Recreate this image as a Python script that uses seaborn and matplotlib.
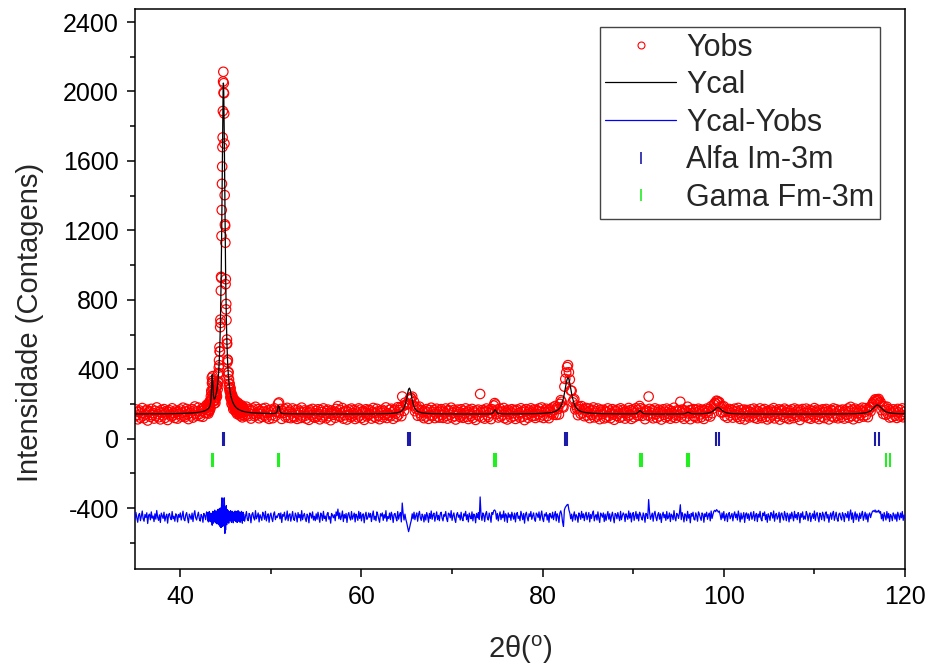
import numpy as np
import matplotlib
matplotlib.use("Agg")
import matplotlib.pyplot as plt
from matplotlib.lines import Line2D
from matplotlib.ticker import MultipleLocator
import seaborn as sns

# ---------------------------------------------------------------------------
# Refined profile: background level and reflections (position, height, FWHM, shape)
# ---------------------------------------------------------------------------
background = 142.0
peak_pos = [43.52, 44.76, 50.85, 65.28, 74.75, 82.80, 90.75, 96.05, 99.35, 116.95]
peak_height = [180, 1910, 55, 150, 25, 210, 20, 10, 38, 52]
peak_fwhm = [0.18, 0.42, 0.20, 0.70, 0.30, 0.90, 0.40, 0.40, 1.00, 1.20]
peak_eta = [0.6, 0.9, 0.6, 0.8, 0.6, 0.8, 0.6, 0.6, 0.8, 0.8]

# Bragg reflection markers for each phase (K-alpha1 / K-alpha2 pairs)
alfa_pos = [44.72, 44.84, 65.15, 65.33, 82.50, 82.74, 99.15, 99.45, 116.70, 117.10]
gama_pos = [43.55, 43.66, 50.80, 50.93, 74.68, 74.86, 90.70, 90.92, 95.95, 96.20, 117.95, 118.35]
alfa_level = 0
gama_level = -125
diff_offset = -450

# Observed minus calculated counts on the measurement grid
# 35.0-42.9 deg, step 0.1
resid_low = [
    -14, 26, -5, -31, 11, 20, -22, 4, 34, -11, -25, 14, -3, 24, -38, 9, 16, -17, 29, -7,
    5, -27, 18, -13, 37, -2, -20, 12, -32, 22, 7, -9, 27, -24, 2, 16, -36, 11, 20, -5,
    -16, 31, -11, 4, -25, 18, 9, -29, 14, -2, 23, -18, 5, 33, -13, -22, 11, 25, -7, -34,
    16, 2, -14, 22, -27, 13, 36, -5, -18, 7, 27, -11, -24, 14, 4, -31, 20, 9, -16, 29,
]
# 43.000-46.975 deg, step 0.025 (main reflection region)
resid_peak = [
    11, -20, 25, -7, -29, 16, 5, -14, 31, -23, 4, 20, -11, -27, 14, 22, -16, 9, -32, 18,
    -40, -48, -22, 32, -16, 25, -36, 13, 29, -9, -25, 20, 39, -14, 7, -34, 23, 11, -20, 34,
    -13, 27, -40, 16, 5, -29, 43, -18, 22, -45, 14, 32, -23, 49, -11, -54, 38, 25, -59, 52,
    45, -60, 70, 95, 110, 65, 30, -55, -25, 55, 65, -50, 60, 100, 110, 80, -70, -95, 30, 55,
    -75, 50, -40, 65, 35, -45, 25, 42, -30, 16, 38, -25, 11, 32, -36, 20, 5, -16, 29, -9,
    18, -23, 36, 7, -14, 27, -31, 13, 22, -7, 32, -20, 4, 25, -34, 16, 9, -13, 29, -4,
    -22, 14, 34, -11, 20, -27, 5, 31, -16, 11, 23, -32, 18, 2, -9, 36, -25, 13, 22, -18,
    7, 29, -14, 20, -31, 4, 25, -5, 16, -22, 32, -11, 9, 23, -36, 14, -2, 27, -20, 11,
]
# 47.0-120.0 deg, step 0.1
resid_high = [
    16, -25, 5, 31, -13, -22, 20, 9, -34, 14, 25, -5, -18, 36, -11, 4, 23, -29, 13, -2,
    -20, 27, 11, -14, 32, -23, 2, 18, -31, 7, 22, -9, -27, 16, 29, -16, 5, -4, 14, 20,
    -11, 23, -32, 13, 4, 27, -18, -7, 34, -22, 11, 18, -25, 2, 31, -13, -20, 22, 7, -29,
    25, -4, 14, -23, 36, -16, 9, 20, -11, -27, 16, 5, -34, 23, 13, -7, 29, -18, 4, -22,
    18, -14, 27, -2, -31, 22, 11, -20, 32, -9, 5, -25, 16, 25, -13, 2, -36, 20, 9, -5,
    13, -22, 29, 7, 45, -11, 23, -16, 4, 34, -27, 14, -7, 20, -32, 11, 25, -4, -18, 31,
    -13, 5, 22, -29, 16, 2, -20, 32, -9, 25, -23, 11, 18, -34, 7, 27, -14, -5, 23, -2,
    20, -27, 9, 34, -16, 4, -22, 29, 14, -11, -31, 18, 5, 23, -20, 13, -7, 36, -25, 2,
    -9, 22, -16, 27, 7, -32, 14, 20, -4, -23, 31, -13, 11, 25, -29, 80, 18, -18, 16, -14,
    -35, -60, -85, -65, -40, -20, 18, -11, 27, -16, 7, 23, -25, 13, 32, -5, -20, 16, 4, -29,
    14, -18, 25, 5, -31, 20, -9, 34, -14, 11, 22, -25, 2, 29, -16, 9, -22, 18, 27, -7,
    -23, 13, 4, 31, -11, -27, 22, 16, -5, 36, -20, 7, 23, -13, -32, 14, 25, -2, 11, -18,
    27, -9, -22, 18, 5, 32, -16, 13, -29, 22, 2, -11, 29, -23, 16, 7, -34, 20, -4, 25,
    -14, 115, 9, -20, 23, 11, -27, 16, 31, -7, -18, 22, 4, -31, 25, 14, 36, 40, 32, -13,
    20, -23, 7, 29, -16, 13, -5, 34, -25, 18, 9, -32, 23, -2, 14, -20, 27, 4, -13, 22,
    -29, 16, 25, -9, 5, -22, 32, 11, -16, 20, -36, 13, 27, -5, -23, 18, 2, 31, -14, 7,
    23, -13, -25, 22, 14, -4, 29, -20, 9, 34, -11, -27, 16, 5, 25, -18, 13, -31, 20, 4,
    -7, 27, -16, 11, 31, -23, 18, 4, -32, 22, 35, 14, -30, -55, 40, 55, 62, 70, 72, 40,
    22, -11, 16, -25, 7, 29, -18, 13, 2, -31, 23, 9, -14, 32, -5, 18, -22, 11, 27, -16,
    5, 25, -29, 14, -9, 20, 34, -23, 4, 13, -18, 29, -7, -32, 22, 11, -2, 23, -27, 16,
    -20, 9, 31, -13, 18, -25, 5, 27, -4, -34, 20, 14, -11, 25, 2, -22, 32, -16, 7, 23,
    11, -27, 18, 4, -14, 34, -7, 22, -29, 13, 25, -20, 5, 31, -11, 16, -23, 27, 14, -5,
    -18, 23, 7, -31, 20, 13, -9, 100, 29, -14, 4, 22, -25, 16, 32, -2, -22, 11, 25, -13,
    18, -32, 9, 27, -5, 14, -20, 31, -11, 2, 23, -27, 16, 7, -16, 36, -4, -23, 20, 13,
    -9, 22, 70, -16, 25, 5, -29, 18, 11, -22, 32, -7, 14, -34, 20, 4, 27, -13, -18, 23,
    7, -25, 29, 16, -4, -20, 23, 13, -31, 18, 2, 27, -14, 9, 22, -23, 34, -9, 14, 32,
    38, 30, 42, 36, 27, 34, 11, -16, 23, -7, 31, -22, 5, 18, -27, 14, 25, -11, 4, 20,
    -23, 13, 29, -5, 16, -18, 34, 7, -29, 22, -13, 2, 25, -32, 14, 23, -9, 18, -20, 11,
    27, -14, 4, 31, -22, 9, 20, -27, 16, -2, 32, -11, -23, 22, 7, 29, -16, 13, -31, 18,
    5, -20, 25, 14, -7, 34, -25, 11, 20, -13, 2, 27, -32, 16, 23, -4, -18, 31, 9, -22,
    22, 7, -29, 18, -11, 27, 4, -23, 32, -5, 14, -16, 25, 11, -34, 20, -2, 29, -14, 5,
    -13, 31, 16, -22, 9, 23, -27, 2, 18, -9, 34, -20, 13, 25, -5, -29, 22, 7, -16, 27,
    11, -23, 20, 29, -7, 14, -31, 5, 23, -14, 18, 32, -20, 4, 27, -11, -25, 16, 22, -4,
    -18, 25, 9, -27, 20, 13, -5, 31, -22, 16, 40, -13, 23, -32, 7, 29, -16, 18, 2, -25,
    22, -9, 14, 32, -20, 5, 27, -14, 18, -29, 11, 23, -4, 16, 31, 36, 30, 40, 26, 34,
    28, 38, 22, 30, -11, 16, -23, 25, 5, -18, 31, -7, 20, -27, 14, 4, -22, 23, 11, -13,
    16, -25, 27, 7, -16, 22, -5, 31, -20, 11, -9,
]

# Measurement grid (2-theta positions of the recorded steps)
two_theta = np.concatenate([
    35.0 + 0.1 * np.arange(len(resid_low)),
    43.0 + 0.025 * np.arange(len(resid_peak)),
    47.0 + 0.1 * np.arange(len(resid_high)),
])
resid = np.array(resid_low + resid_peak + resid_high, dtype=float)


def pseudo_voigt(x, pos, height, fwhm, eta):
    u = (x - pos) / (fwhm / 2.0)
    return height * (eta / (1.0 + u ** 2) + (1.0 - eta) * np.exp(-np.log(2.0) * u ** 2))


ycal = np.full_like(two_theta, background)
for p, h, w, e in zip(peak_pos, peak_height, peak_fwhm, peak_eta):
    ycal += pseudo_voigt(two_theta, p, h, w, e)
yobs = ycal + resid
ydiff = resid + diff_offset

# ---------------------------------------------------------------------------
# Figure
# ---------------------------------------------------------------------------
sns.set_style("ticks")
plt.rcParams["font.family"] = ["Liberation Sans", "DejaVu Sans"]
plt.rcParams["mathtext.fontset"] = "custom"
plt.rcParams["mathtext.rm"] = "Liberation Sans"
plt.rcParams["mathtext.it"] = "Liberation Sans:italic"
plt.rcParams["axes.unicode_minus"] = False

fig = plt.figure(figsize=(9.29, 6.68), dpi=100)
ax = fig.add_axes([135 / 929, 99 / 668, 770 / 929, 560 / 668])

obs_color = "#FF0000"
cal_color = "#000000"
diff_color = "#0000FF"
alfa_color = "#1C1CA8"
gama_color = "#22EE22"

sns.scatterplot(x=two_theta, y=yobs, ax=ax, marker="o", s=46,
                facecolors="none", edgecolor=obs_color, linewidth=0.85, zorder=2)
sns.lineplot(x=two_theta, y=ycal, ax=ax, color=cal_color, linewidth=0.9,
             estimator=None, sort=False, zorder=3)
sns.lineplot(x=two_theta, y=ydiff, ax=ax, color=diff_color, linewidth=0.9,
             estimator=None, sort=False, zorder=3)
sns.scatterplot(x=alfa_pos, y=[alfa_level] * len(alfa_pos), ax=ax, marker="|",
                s=90, color=alfa_color, linewidth=1.5, zorder=3)
sns.scatterplot(x=gama_pos, y=[gama_level] * len(gama_pos), ax=ax, marker="|",
                s=90, color=gama_color, linewidth=1.5, zorder=3)

ax.set_xlim(35, 120)
ax.set_ylim(-750, 2475)
ax.xaxis.set_major_locator(MultipleLocator(20))
ax.xaxis.set_minor_locator(MultipleLocator(10))
ax.yaxis.set_major_locator(MultipleLocator(400))
ax.yaxis.set_minor_locator(MultipleLocator(200))
ax.tick_params(which="both", direction="out", width=1.1, colors="black",
               labelsize=18, top=False, right=False)
ax.tick_params(which="major", length=5.5)
ax.tick_params(which="minor", length=3.5)
ax.tick_params(axis="y", pad=6)
ax.tick_params(axis="x", pad=6)
for sp in ax.spines.values():
    sp.set_linewidth(1.1)
    sp.set_color("black")

ax.set_xlabel(r"2θ($^{\mathrm{o}}$)", fontsize=21, labelpad=18)
ax.set_ylabel("Intensidade (Contagens)", fontsize=21)
ax.yaxis.set_label_coords(-0.118, 0.44)

handles = [
    Line2D([], [], linestyle="none", marker="o", markersize=5, markerfacecolor="none",
           markeredgecolor=obs_color, markeredgewidth=0.8),
    Line2D([], [], color=cal_color, linewidth=0.9),
    Line2D([], [], color=diff_color, linewidth=0.9),
    Line2D([], [], linestyle="none", marker="|", markersize=8, color=alfa_color,
           markeredgewidth=1.2),
    Line2D([], [], linestyle="none", marker="|", markersize=8, color=gama_color,
           markeredgewidth=1.2),
]
labels = ["Yobs", "Ycal", "Ycal-Yobs", "Alfa Im-3m", "Gama Fm-3m"]
leg = ax.legend(handles, labels, loc="upper right",
                bbox_to_anchor=(880 / 929, 1 - 27 / 668), bbox_transform=fig.transFigure,
                fontsize=22, frameon=True, fancybox=False, framealpha=1,
                edgecolor="#444444", borderpad=0.18, labelspacing=0.25,
                handlelength=2.3, handletextpad=0.35, borderaxespad=0)
leg.get_frame().set_linewidth(1.0)

fig.savefig("out.png", dpi=100)
